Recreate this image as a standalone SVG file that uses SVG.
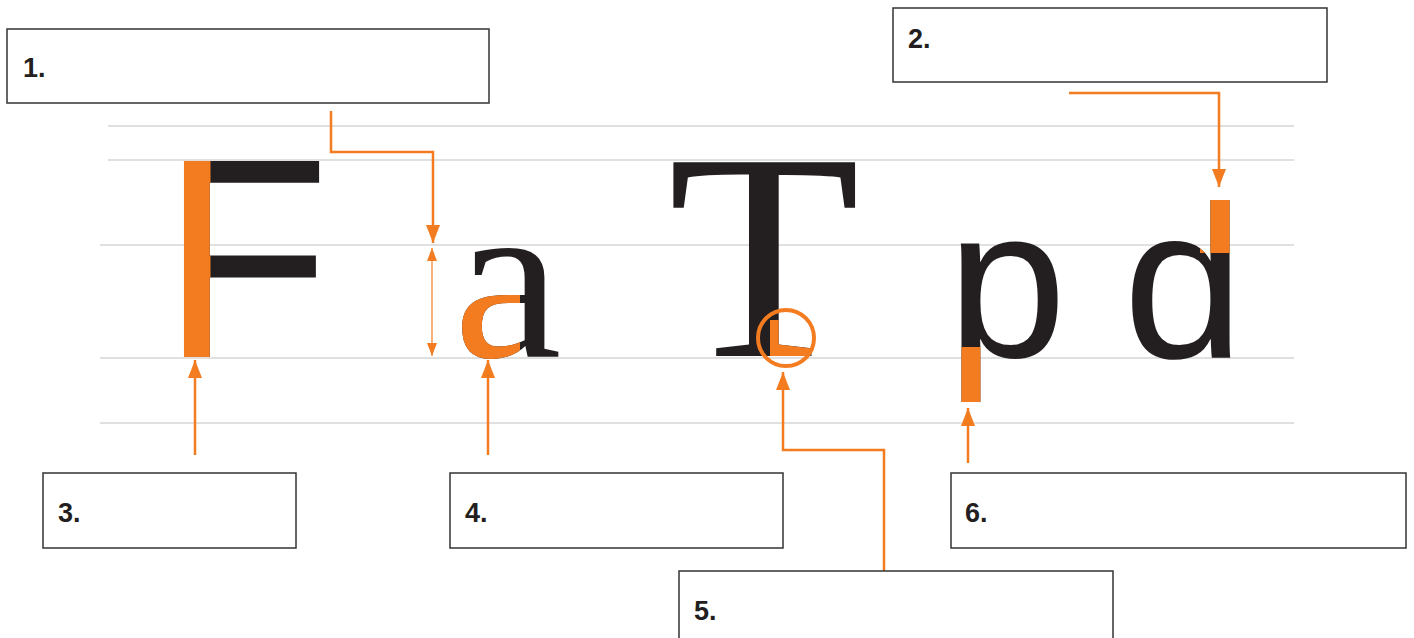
<svg xmlns="http://www.w3.org/2000/svg" width="1414" height="638" viewBox="0 0 1414 638">
  <style>
    .box { fill: #ffffff; stroke: #333333; stroke-width: 1.5; }
    .lbl { font-family: "Liberation Sans", Arial, sans-serif; font-weight: bold; font-size: 27px; fill: #231f20; }
    .guide { stroke: #d6d6d6; stroke-width: 1.5; fill: none; }
    .conn { stroke: #f47c20; stroke-width: 2.5; fill: none; }
    .thin { stroke: #f47c20; stroke-width: 1.2; fill: none; }
    .sans { font-family: "Liberation Sans", Arial, sans-serif; }
    .serif { font-family: "Liberation Serif", "Times New Roman", serif; }
    .blk { fill: #231f20; }
    .org { fill: #f47c20; }
  </style>
  <defs>
    <marker id="ah" markerWidth="18" markerHeight="14" refX="18" refY="7" orient="auto" markerUnits="userSpaceOnUse">
      <path d="M0,0 L18,7 L0,14 z" fill="#f47c20"/>
    </marker>
    <marker id="ahs" markerWidth="13" markerHeight="10" refX="13" refY="5" orient="auto-start-reverse" markerUnits="userSpaceOnUse">
      <path d="M0,0 L13,5 L0,10 z" fill="#f47c20"/>
    </marker>
    <clipPath id="clipF"><rect x="175" y="150" width="35.5" height="215"/></clipPath>
    <clipPath id="clipA"><rect x="440" y="286" width="80" height="80"/></clipPath>
    <clipPath id="clipT"><rect x="770" y="320" width="40" height="40"/></clipPath>
    <clipPath id="clipP"><rect x="950" y="347" width="31.5" height="60"/></clipPath>
    <clipPath id="clipD"><rect x="1200" y="190" width="40" height="63"/></clipPath>
  </defs>
  <rect x="0" y="0" width="1414" height="638" fill="#ffffff"/>

  <g id="guidelines">
    <line class="guide" x1="108" y1="126" x2="1294" y2="126"/>
    <line class="guide" x1="108" y1="160" x2="1294" y2="160"/>
    <line class="guide" x1="100" y1="245" x2="1294" y2="245"/>
    <line class="guide" x1="100" y1="358" x2="1294" y2="358"/>
    <line class="guide" x1="100" y1="423" x2="1294" y2="423"/>
  </g>

  <g id="letters">
    <g id="letter-F">
      <g transform="translate(184 357) scale(0.97 1)">
        <text class="sans blk" x="-23.4" y="0" font-size="285">F</text>
      </g>
      <g clip-path="url(#clipF)">
        <g transform="translate(184 357) scale(0.97 1)">
          <text class="sans org" x="-23.4" y="0" font-size="285">F</text>
        </g>
      </g>
    </g>
    <g id="letter-a">
      <g transform="translate(462 357) scale(1.06 1)">
        <text class="serif blk" x="-8" y="0" font-size="230">a</text>
      </g>
      <g clip-path="url(#clipA)">
        <g transform="translate(462 357) scale(1.06 1)">
          <text class="serif org" x="-8" y="0" font-size="230">a</text>
        </g>
      </g>
    </g>
    <g id="letter-T">
      <g transform="translate(764,356) scale(1.065,1)">
        <text class="serif blk" x="0" y="0" font-size="296" text-anchor="middle">T</text>
      </g>
      <g clip-path="url(#clipT)">
        <g transform="translate(764,356) scale(1.065,1)">
          <text class="serif org" x="0" y="0" font-size="296" text-anchor="middle">T</text>
        </g>
      </g>
      <circle cx="786" cy="338" r="28" fill="none" stroke="#f47c20" stroke-width="4"/>
    </g>
    <g id="letter-p">
      <text class="sans blk" x="947" y="357" font-size="215">p</text>
      <text class="sans org" x="947" y="357" font-size="215" clip-path="url(#clipP)">p</text>
    </g>
    <g id="letter-d">
      <text class="sans blk" x="1123" y="357" font-size="218">d</text>
      <text class="sans org" x="1123" y="357" font-size="218" clip-path="url(#clipD)">d</text>
    </g>
  </g>

  <g id="connectors">
    <polyline class="conn" points="331,111 331,152 433,152 433,243" marker-end="url(#ah)"/>
    <line class="thin" x1="432" y1="248" x2="432" y2="356" marker-start="url(#ahs)" marker-end="url(#ahs)"/>
    <polyline class="conn" points="1069,93 1219,93 1219,187" marker-end="url(#ah)"/>
    <line class="conn" x1="195" y1="455" x2="195" y2="360" marker-end="url(#ah)"/>
    <line class="conn" x1="488" y1="455" x2="488" y2="360" marker-end="url(#ah)"/>
    <polyline class="conn" points="884,571 884,450 783,450 783,372" marker-end="url(#ah)"/>
    <line class="conn" x1="968" y1="463" x2="968" y2="408" marker-end="url(#ah)"/>
  </g>

  <g id="node-1">
    <rect class="box" x="7" y="29" width="482" height="74"/>
    <text class="lbl" x="23" y="77">1.</text>
  </g>
  <g id="node-2">
    <rect class="box" x="893" y="8" width="434" height="74"/>
    <text class="lbl" x="908" y="48">2.</text>
  </g>
  <g id="node-3">
    <rect class="box" x="43" y="473" width="253" height="75"/>
    <text class="lbl" x="58" y="522">3.</text>
  </g>
  <g id="node-4">
    <rect class="box" x="450" y="473" width="333" height="75"/>
    <text class="lbl" x="465" y="522">4.</text>
  </g>
  <g id="node-5">
    <rect class="box" x="679" y="571" width="434" height="80"/>
    <text class="lbl" x="694" y="620">5.</text>
  </g>
  <g id="node-6">
    <rect class="box" x="951" y="473" width="455" height="75"/>
    <text class="lbl" x="965" y="522">6.</text>
  </g>
</svg>
